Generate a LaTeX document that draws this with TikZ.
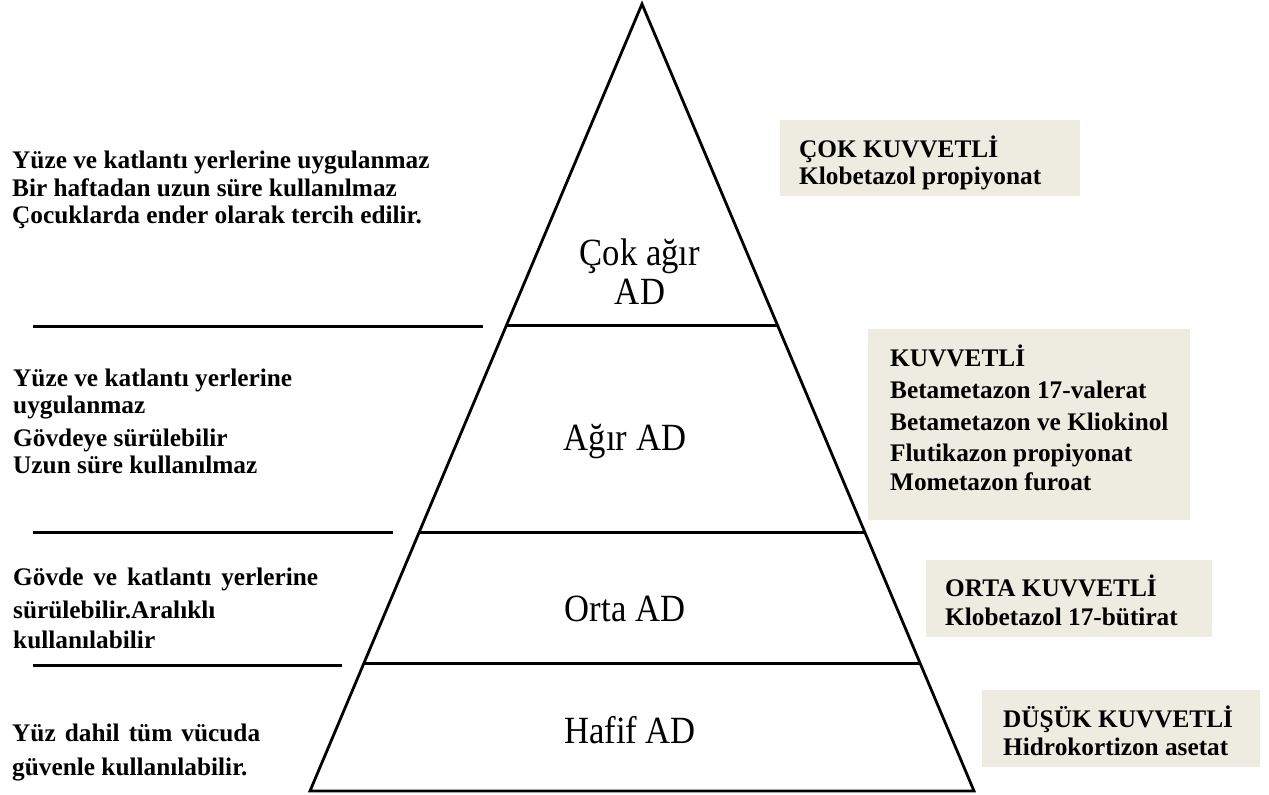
\documentclass[tikz,border=0pt]{standalone}
\usepackage{fontspec}
\setmainfont{Liberation Serif}
\newfontfamily\lvlfont[FakeStretch=0.9]{Liberation Serif}
\usetikzlibrary{calc}
\begin{document}
\begin{tikzpicture}[x=1pt,y=-1pt,
  lt/.style={anchor=base west, inner sep=0pt, font=\fontsize{25.3}{27.5}\selectfont\bfseries},
  lvl/.style={anchor=base, inner sep=0pt, font=\lvlfont\fontsize{38.5}{44}\selectfont},
  tanbox/.style={fill=tan, draw=none, anchor=north west, inner sep=0pt},
  edge/.style={line width=2.8pt, line join=miter},
  sep/.style={line width=3pt}]
\definecolor{tan}{HTML}{EEECE1}
\useasboundingbox (0,0) rectangle (1269,795);
% boxes
\node[tanbox, minimum width=300pt, minimum height=76pt] (b1) at (780,120) {};
\node[tanbox, minimum width=322pt, minimum height=191pt] (b2) at (868,329) {};
\node[tanbox, minimum width=286pt, minimum height=77pt] (b3) at (926,560) {};
\node[tanbox, minimum width=278pt, minimum height=77pt] (b4) at (982,690) {};
% pyramid
\coordinate (A) at (642,4);
\coordinate (BL) at (310,791);
\coordinate (BR) at (974,791);
\draw[edge] (A) -- (BR) -- (BL) -- cycle;
\coordinate (p1l) at ($(A)!0.4079!(BL)$);
\coordinate (p1r) at ($(A)!0.4079!(BR)$);
\coordinate (p2l) at ($(A)!0.6709!(BL)$);
\coordinate (p2r) at ($(A)!0.6709!(BR)$);
\coordinate (p3l) at ($(A)!0.8386!(BL)$);
\coordinate (p3r) at ($(A)!0.8386!(BR)$);
\draw[sep] (p1l) -- (p1r);
\draw[sep] (p2l) -- (p2r);
\draw[sep] (p3l) -- (p3r);
% left separators
\coordinate (s1a) at (33,326); \coordinate (s1b) at (483,326);
\coordinate (s2a) at (33,532); \coordinate (s2b) at (393,532);
\coordinate (s3a) at (33,665); \coordinate (s3b) at (342,665);
\draw[sep] (s1a) -- (s1b);
\draw[sep] (s2a) -- (s2b);
\draw[sep] (s3a) -- (s3b);
% level labels
\node[lvl] (v1a) at (640,265) {Çok ağır};
\node[lvl] (v1b) at (640,304) {AD};
\node[lvl] (v2) at (625,450) {Ağır AD};
\node[lvl] (v3) at (625,621) {Orta AD};
\node[lvl] (v4) at (630,743) {Hafif AD};
% left texts
\node[lt] (a1) at (12,168) {Yüze ve katlantı yerlerine uygulanmaz};
\node[lt] (a2) at (12,196) {Bir haftadan uzun süre kullanılmaz};
\node[lt] (a3) at (12,223) {Çocuklarda ender olarak tercih edilir.};
\node[lt] (c1) at (13,386) {Yüze ve katlantı yerlerine};
\node[lt] (c2) at (13,413) {uygulanmaz};
\node[lt] (c3) at (13,446) {Gövdeye sürülebilir};
\node[lt] (c4) at (13,473) {Uzun süre kullanılmaz};
\node[lt] (d1) at (13,585) {\makebox[305pt][s]{Gövde ve katlantı yerlerine}};
\node[lt] (d2) at (13,618) {sürülebilir.Aralıklı};
\node[lt] (d3) at (13,648) {kullanılabilir};
\node[lt] (e1) at (12,741) {\makebox[248pt][s]{Yüz dahil tüm vücuda}};
\node[lt] (e2) at (12,775) {güvenle kullanılabilir.};
% box texts
\node[lt] (t1a) at (799,157) {ÇOK KUVVETLİ};
\node[lt] (t1b) at (799,184) {Klobetazol propiyonat};
\node[lt] (t2a) at (890,366) {KUVVETLİ};
\node[lt] (t2b) at (890,398) {Betametazon 17-valerat};
\node[lt] (t2c) at (890,430) {Betametazon ve Kliokinol};
\node[lt] (t2d) at (890,461) {Flutikazon propiyonat};
\node[lt] (t2e) at (890,490) {Mometazon furoat};
\node[lt] (t3a) at (945,596) {ORTA KUVVETLİ};
\node[lt] (t3b) at (945,625) {Klobetazol 17-bütirat};
\node[lt] (t4a) at (1003,727) {DÜŞÜK KUVVETLİ};
\node[lt] (t4b) at (1003,755) {Hidrokortizon asetat};
\end{tikzpicture}
\end{document}
